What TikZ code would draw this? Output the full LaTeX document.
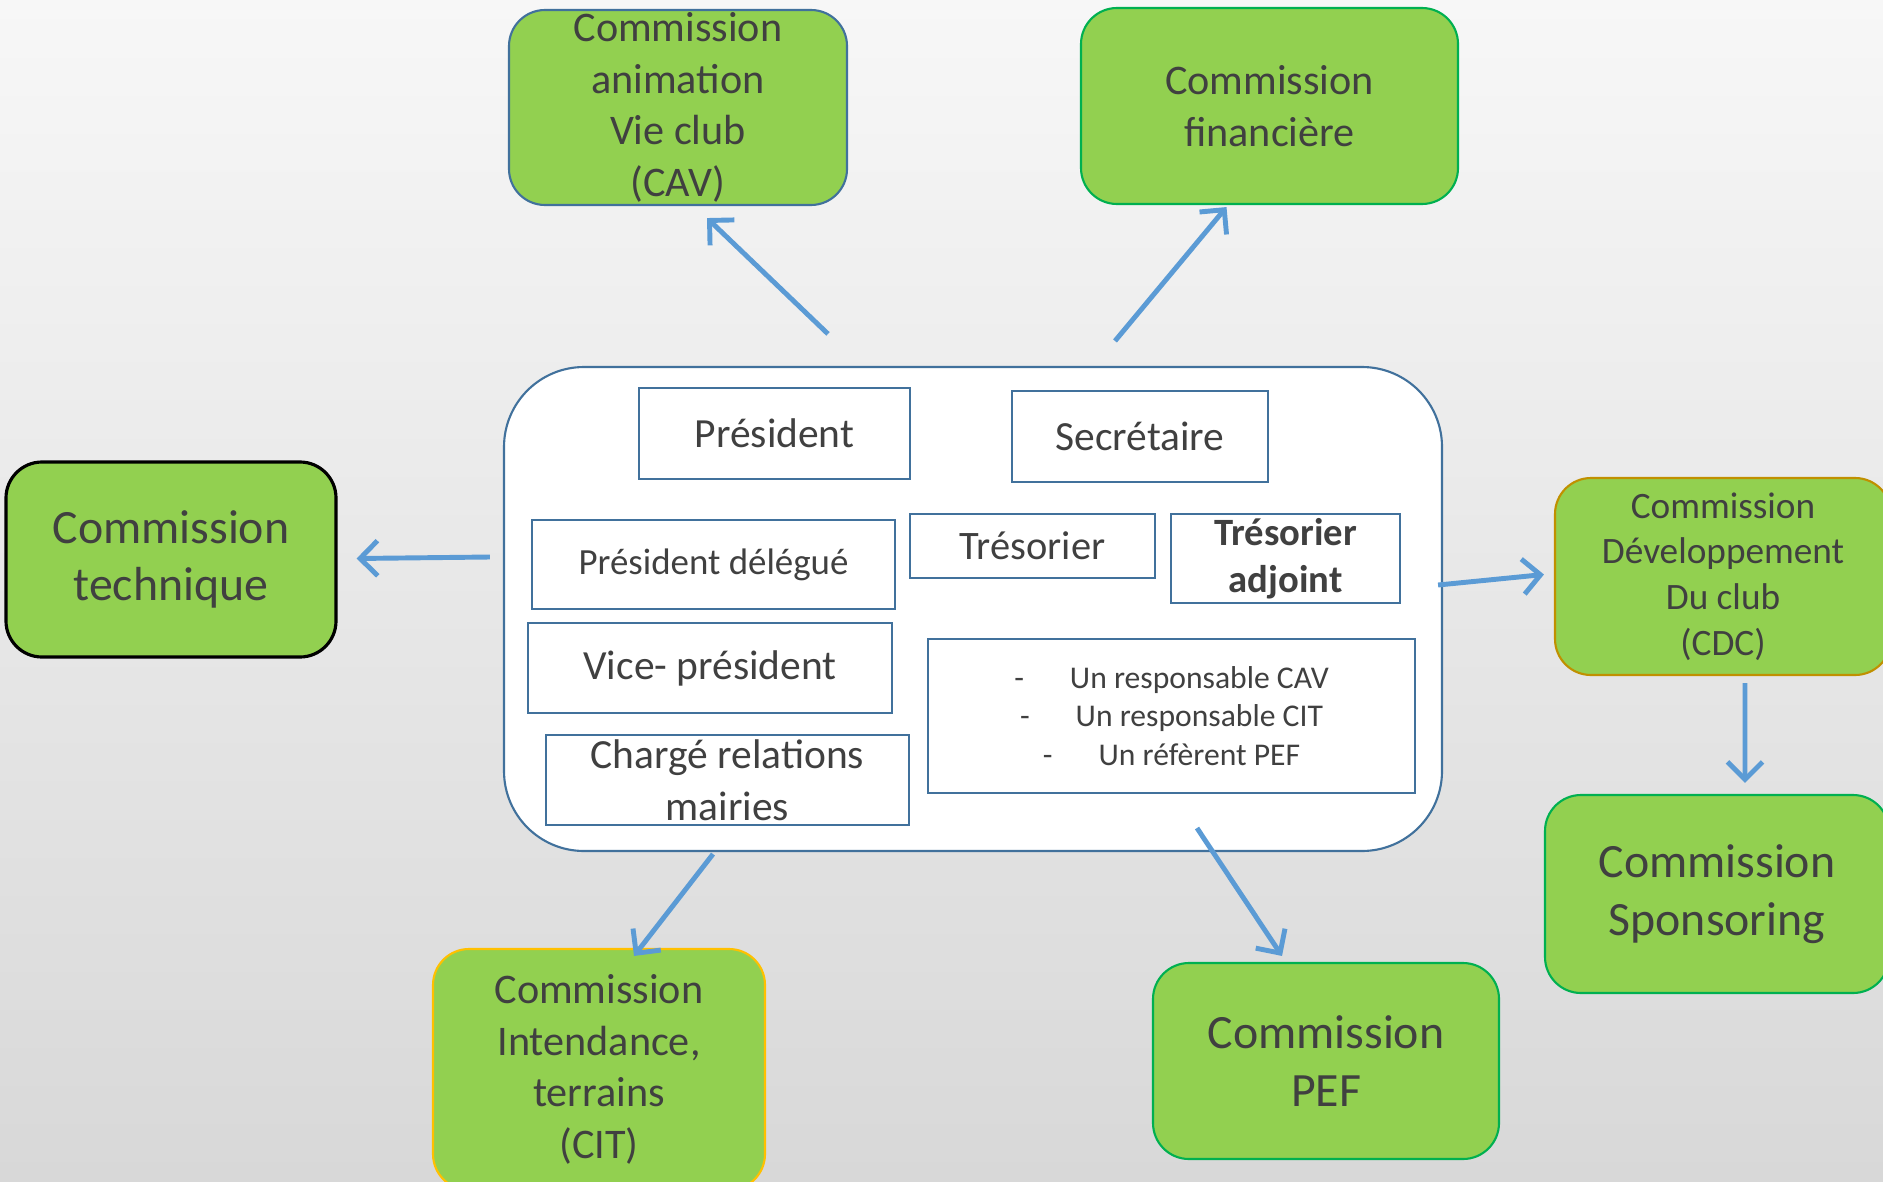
\documentclass[tikz,border=0pt]{standalone}
\usepackage{fontspec}
\setmainfont{Carlito}
\usetikzlibrary{arrows.meta}
\definecolor{vert}{HTML}{92D050}
\definecolor{vertfonce}{HTML}{00B050}
\definecolor{cadre}{HTML}{41719C}
\definecolor{orangefonce}{HTML}{C09000}
\definecolor{jaune}{HTML}{FFC000}
\definecolor{fleche}{HTML}{5B9BD5}
\definecolor{texte}{HTML}{404040}
\definecolor{fondhaut}{HTML}{F7F7F7}
\definecolor{fondbas}{HTML}{D8D8D8}

\begin{document}
\begin{tikzpicture}[x=1mm,y=-1mm,
        commbox/.style={draw, rectangle, rounded corners=3.6mm, fill=vert, line width=0.6pt, inner sep=0pt, align=center, text=texte},
        rolebox/.style={draw=cadre, rectangle, fill=white, line width=0.6pt, inner sep=0pt, align=center, text=texte},
        arr/.style={draw=fleche, line width=1.4pt, -{Straight Barb[length=5pt,width=10pt]}},
        grand/.style={font=\fontsize{13.6}{16.4}\selectfont},
        moyen/.style={font=\fontsize{12}{14.7}\selectfont},
        petit/.style={font=\fontsize{10.6}{13}\selectfont}]
                    \useasboundingbox (0,0) rectangle (188.3,118.1);
                    \clip (0,0) rectangle (188.3,118.1);
                    \shade[top color=fondhaut, bottom color=fondbas] (0,0) rectangle (188.3,118.1);

                    \node[commbox, moyen, draw=cadre, minimum width=33.8mm, minimum height=19.5mm] (cav) at (67.8,10.75) {Commission\\animation\\Vie club\\(CAV)};
                    \node[commbox, moyen, draw=vertfonce, minimum width=37.7mm, minimum height=19.6mm] (fin) at (126.95,10.6) {Commission\\financière};
                    \node[commbox, grand, draw=black, line width=0.9pt, minimum width=33mm, minimum height=19.5mm] (tech) at (17.1,55.95) {Commission\\technique};
                    \node[commbox, petit, draw=orangefonce, minimum width=33.6mm, minimum height=19.7mm] (cdc) at (172.3,57.65) {Commission\\Développement\\Du club\\(CDC)};
                    \node[commbox, grand, draw=vertfonce, minimum width=34.4mm, minimum height=19.8mm] (spon) at (171.7,89.4) {Commission\\Sponsoring};
                    \node[commbox, grand, draw=vertfonce, minimum width=34.6mm, minimum height=19.6mm] (pef) at (132.6,106.1) {Commission\\PEF};
                    \node[commbox, moyen, draw=jaune, minimum width=33.2mm, minimum height=24.1mm] (cit) at (59.9,106.95) {Commission\\Intendance,\\terrains\\(CIT)};

                    \node[draw=cadre, rectangle, rounded corners=8mm, fill=white, line width=0.6pt, minimum width=93.8mm, minimum height=48.4mm] (bureau) at (97.3,60.9) {};

                    \node[rolebox, font=\fontsize{11.8}{14.7}\selectfont, minimum width=27.1mm, minimum height=9.1mm] (pres) at (77.45,43.35) {Président};
                    \node[rolebox, font=\fontsize{11.8}{14.7}\selectfont, minimum width=25.6mm, minimum height=9.1mm] (sec) at (114,43.65) {Secrétaire};
                    \node[rolebox, font=\fontsize{10.5}{12.8}\selectfont, minimum width=36.3mm, minimum height=8.9mm] (presdel) at (71.35,56.45) {Président délégué};
                    \node[rolebox, font=\fontsize{11.5}{14}\selectfont, minimum width=24.5mm, minimum height=6.4mm] (tres) at (103.25,54.6) {Trésorier};
                    \node[rolebox, font=\fontsize{11}{13.4}\selectfont\bfseries, minimum width=22.9mm, minimum height=8.9mm] (tresadj) at (128.55,55.85) {Trésorier\\adjoint};
                    \node[rolebox, font=\fontsize{11.8}{14.7}\selectfont, minimum width=36.4mm, minimum height=9mm] (vice) at (71,66.8) {Vice- président};
                    \node[rolebox, font=\fontsize{11.8}{14.7}\selectfont, minimum width=36.3mm, minimum height=9mm] (charge) at (72.75,78) {Chargé relations\\mairies};
                    \node[rolebox, font=\fontsize{9}{11}\selectfont, minimum width=48.7mm, minimum height=15.4mm] (resp) at (117.15,71.6) {-\hspace{4.6mm}Un responsable CAV\\-\hspace{4.6mm}Un responsable CIT\\-\hspace{4.6mm}Un réfèrent PEF};

                    \draw[arr] ([shift={(-14.5,-3.2)}]bureau.north) -- ([shift={(2.9,1.2)}]cav.south);
                    \draw[arr] ([shift={(14.2,-2.5)}]bureau.north) -- ([shift={(-4.3,0.2)}]fin.south);
                    \draw[arr] ([shift={(-1.3,-5.2)}]bureau.west) -- ([shift={(1.9,-0.1)}]tech.east);
                    \draw[arr] ([shift={(-0.5,-2.4)}]bureau.east) -- ([shift={(-1,-0.2)}]cdc.west);
                    \draw[arr] ([shift={(2.2,0.7)}]cdc.south) -- ([shift={(2.8,-1.1)}]spon.north);
                    \draw[arr] ([shift={(-26,0.2)}]bureau.south) -- ([shift={(3.5,0.8)}]cit.north);
                    \draw[arr] ([shift={(22.4,-2.4)}]bureau.south) -- ([shift={(-4.4,-0.6)}]pef.north);
\end{tikzpicture}
\end{document}
